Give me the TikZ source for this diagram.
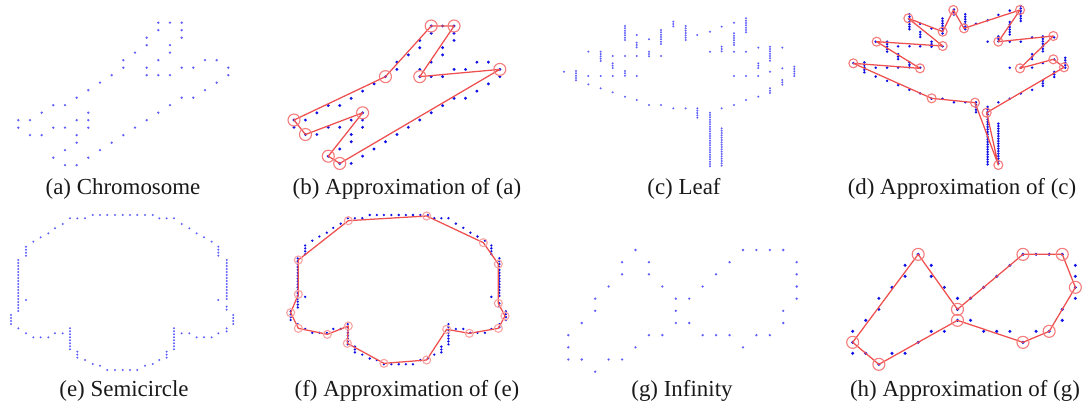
\documentclass[tikz,border=0pt]{standalone}
\usepackage{fontspec}
\setmainfont{Liberation Serif}
\newfontfamily\capfont{Liberation Serif}
\definecolor{dotlight}{RGB}{95,95,252}
\definecolor{dotdark}{RGB}{15,15,230}
\definecolor{polyred}{RGB}{238,80,80}
\definecolor{ringred}{RGB}{245,125,125}
\tikzset{
  raw dot/.style={
    fill=dotlight
  },
  appr dot/.style={
    fill=dotdark
  },
  appr line/.style={
    draw=polyred, line width=0.9pt, line join=round
  },
  vtx ring/.style={
    draw=ringred, line width=0.8pt
  },
  caption/.style={
    anchor=base, inner sep=0pt, text=black!90,
    font=\capfont\fontsize{16.3}{20}\selectfont
  }
}
% 点集数据（网格下标 / 放大图坐标）
\newcommand{\chromlist}{12/0,13/0,14/0, 12/1,14/1, 11/2,14/2, 11/3,13/3,
  10/4,13/4, 9/5,12/5,16/5,17/5, 9/6,11/6,14/6,15/6,18/6,
  8/7,11/7,12/7,13/7,18/7, 7/8,17/8, 6/9,16/9, 5/10,14/10,15/10,
  3/11,4/11,13/11, 2/12,6/12,12/12, 0/13,1/13,5/13,6/13,11/13,
  0/14,3/14,4/14,6/14,10/14, 1/15,2/15,5/15,9/15, 5/16,8/16,
  4/17,7/17, 3/18,6/18, 4/19,5/19}
\newcommand{\leaflist}{72/215/215, 108/213/243,
  145/155/155, 145/228/228, 145/253/253,
  182/155/182, 182/228/228, 182/265/265,
  218/168/168, 218/190/205, 218/228/228, 218/277/277,
  255/78/120, 255/168/168, 255/213/228, 255/290/290,
  290/105/105, 290/128/145, 290/168/168, 290/228/228, 290/300/300,
  327/118/118, 327/155/168, 327/315/315,
  363/90/130, 363/168/168, 363/315/315,
  400/65/80, 400/325/325, 437/78/120, 437/325/325,
  472/105/105, 472/325/355,
  510/95/95, 510/155/155, 510/338/500,
  545/80/80, 545/140/157, 545/325/325, 545/385/500,
  582/68/68, 582/100/135, 582/155/155, 582/228/228, 582/315/315,
  618/55/95, 618/155/155, 618/228/228, 618/300/300,
  655/143/143, 655/190/205, 655/228/228, 655/290/290,
  690/140/182, 690/215/215, 690/265/278,
  727/143/143, 727/205/205, 727/240/255, 763/200/230}
\newcommand{\semilist}{210/55/55, 232/55/55, 255/55/55, 278/45/45, 300/45/45,
  322/45/45, 345/45/45, 368/45/45, 390/45/45, 412/45/45, 435/45/45,
  458/45/45, 478/55/55, 500/55/55, 522/55/55,
  188/72/72, 165/85/85, 145/100/100, 122/112/112, 100/125/125,
  78/140/170, 55/180/330, 78/300/300, 33/345/375, 55/385/385,
  78/400/400, 100/412/412, 122/412/412, 145/412/412, 165/400/400,
  188/400/400, 210/385/445, 232/455/470, 255/480/480, 278/492/492,
  300/497/497, 322/510/510, 345/510/510, 368/510/510, 390/510/510,
  412/510/510, 435/497/497, 458/492/492, 478/480/480, 500/455/470,
  522/385/445, 545/400/400, 568/400/400, 590/412/412, 612/412/412,
  635/412/412, 655/400/400, 680/385/395, 700/345/375, 680/320/330,
  655/300/300, 680/180/300, 655/140/170, 635/125/125, 612/112/112,
  590/100/100, 568/85/85, 545/72/72}
\newcommand{\inflist}{5/0, 4/1,6/1, 4/2,6/2, 3/3,7/3, 2/4,8/4,9/4,
  2/5,8/5, 1/6,8/6,9/6, 0/7,6/7,7/7, 0/8,5/8, 0/9,1/9,3/9,4/9, 2/10,
  13/0,14/0,15/0,16/0, 12/1,17/1, 11/2,17/2, 10/3,17/3, 17/4,
  16/5, 16/6, 10/7,11/7,12/7,14/7,15/7, 13/8}

\begin{document}
\begin{tikzpicture}[x=0.025cm, y=-0.025cm]
\useasboundingbox (0,0) rectangle (1088,408);

% ------------------------------------------------
% (a) / (b)：染色体
% ------------------------------------------------
\foreach \i/\j in \chromlist
  \fill[raw dot] ({(55+35*\i)/3},{(68+22.5*\j)/3}) circle[radius=1.3];
\node[caption] (capA) at (123,194) {(a) Chromosome};

\foreach \i/\j in \chromlist
  \fill[appr dot] ({270+(72+34.3*\i)/3},{(78+21.7*\j)/3}) circle[radius=1.6];
\foreach \n/\i/\j in {1/12/0, 2/14/0, 3/11/7, 4/18/6, 5/4/19,
                      6/3/18, 7/6/12, 8/1/15, 9/0/13, 10/8/7}
  \coordinate (b\n) at ({270+(72+34.3*\i)/3},{(78+21.7*\j)/3});
\draw[appr line] (b1) -- (b2) -- (b3) -- (b4) -- (b5) -- (b6)
  -- (b7) -- (b8) -- (b9) -- (b10) -- cycle;
\foreach \n in {1,...,10}
  \draw[vtx ring] (b\n) circle[radius=6];
\node[caption] (capB) at (407,194) {(b) Approximation of (a)};

% ------------------------------------------------
% (c) / (d)：叶子
% ------------------------------------------------
\foreach \x/\ya/\yb in \leaflist {
  \pgfmathtruncatemacro{\nn}{round((\yb-\ya)/7)}
  \foreach \k in {0,...,\nn}
    \fill[raw dot] ({540+\x/3},{(\ya+7*\k)/3}) circle[radius=1.1];
}
\node[caption] (capC) at (684,194) {(c) Leaf};

\foreach \x/\ya/\yb in \leaflist {
  \pgfmathtruncatemacro{\nn}{round((\yb-\ya)/7)}
  \foreach \k in {0,...,\nn}
    \fill[appr dot] ({810+(130+(\x-72)*0.92)/3},{(18+(\ya+7*\k-55)*1.07)/3})
      circle[radius=1.4];
}
\foreach \n/\x/\y in {1/295/55, 2/398/95, 3/430/30, 4/462/85, 5/630/30,
                      6/565/125, 7/730/108, 8/630/205, 9/730/178,
                      10/762/202, 11/530/338, 12/565/495, 13/495/308,
                      14/365/295, 15/130/190, 16/330/205, 17/200/125,
                      18/398/138}
  \coordinate (d\n) at ({810+\x/3},{\y/3});
\draw[appr line] (d1) -- (d2) -- (d3) -- (d4) -- (d5) -- (d6) -- (d7)
  -- (d8) -- (d9) -- (d10) -- (d11) -- (d12) -- (d13) -- (d14) -- (d15)
  -- (d16) -- (d17) -- (d18) -- cycle;
\foreach \n in {1,...,18}
  \draw[vtx ring] (d\n) circle[radius=4.5];
\node[caption] (capD) at (962,194) {(d) Approximation of (c)};

% ------------------------------------------------
% (e) / (f)：半圆
% ------------------------------------------------
\foreach \x/\ya/\yb in \semilist {
  \pgfmathtruncatemacro{\nn}{round((\yb-\ya)/9)}
  \foreach \k in {0,...,\nn}
    \fill[raw dot] ({\x/3},{200+(\ya+9*\k)/3}) circle[radius=1.1];
}
\node[caption] (capE) at (124,396) {(e) Semicircle};

\foreach \x/\ya/\yb in \semilist {
  \pgfmathtruncatemacro{\nn}{round((\yb-\ya)/9)}
  \foreach \k in {0,...,\nn}
    \fill[appr dot] ({270+(62+(\x-33)*0.968)/3},{200+(45+(\ya+9*\k-45)*0.963)/3})
      circle[radius=1.3];
}
\foreach \n/\x/\y in {1/235/62, 2/470/48, 3/640/128, 4/685/192, 5/685/310,
                      6/705/348, 7/685/385, 8/598/400, 9/530/388,
                      10/470/480, 11/342/490, 12/232/430, 13/235/378,
                      14/172/403, 15/85/385, 16/62/338, 17/85/283,
                      18/85/180}
  \coordinate (f\n) at ({270+\x/3},{200+\y/3});
\draw[appr line] (f1) -- (f2) -- (f3) -- (f4) -- (f5) -- (f6) -- (f7)
  -- (f8) -- (f9) -- (f10) -- (f11) -- (f12) -- (f13) -- (f14) -- (f15)
  -- (f16) -- (f17) -- (f18) -- cycle;
\foreach \n in {1,...,18}
  \draw[vtx ring, draw=ringred!70] (f\n) circle[radius=4];
\node[caption] (capF) at (407,396) {(f) Approximation of (e)};

% ------------------------------------------------
% (g) / (h)：无穷符号
% ------------------------------------------------
\foreach \i/\j in \inflist
  \fill[raw dot] ({540+(85+40.3*\i)/3},{200+(150+36.5*\j)/3}) circle[radius=1.3];
\node[caption] (capG) at (682,396) {(g) Infinity};

\foreach \i/\j in \inflist
  \fill[appr dot] ({810+(128+39.3*\i)/3},{200+(163+33*\j)/3}) circle[radius=1.7];
\foreach \n/\i/\j in {1/5/0, 2/8/5, 3/13/0, 4/16/0, 5/17/3,
                      6/15/7, 7/13/8, 8/8/6, 9/2/10, 10/0/8}
  \coordinate (h\n) at ({810+(128+39.3*\i)/3},{200+(163+33*\j)/3});
\draw[appr line] (h1) -- (h2) -- (h3) -- (h4) -- (h5) -- (h6)
  -- (h7) -- (h8) -- (h9) -- (h10) -- cycle;
\foreach \n in {1,...,10}
  \draw[vtx ring] (h\n) circle[radius=6];
\node[caption] (capH) at (965,396) {(h) Approximation of (g)};
\end{tikzpicture}
\end{document}
